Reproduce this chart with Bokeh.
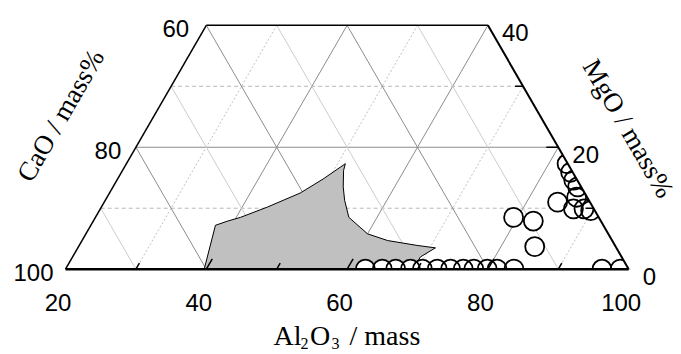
import math
from bokeh.plotting import figure
from bokeh.models import Range1d
from bokeh.core.properties import value
from bokeh.embed import file_html
from bokeh.resources import INLINE

# ---------------- data ----------------
# bottom axis (Al2O3), left axis (CaO), right axis (MgO) tick labels
al2o3_ticks = [20, 40, 60, 80, 100]
cao_ticks = [100, 80, 60]
mgo_ticks = [0, 20, 40]

# measured points: Al2O3 and MgO (mass%)
pts_al2o3 = [62.6, 65.0, 66.9, 69.0, 70.7, 72.8, 74.7, 76.5, 78.0, 79.9, 81.3, 83.7, 96.2, 98.8,
             82.6, 83.8, 84.9, 86.0, 84.4, 86.7, 87.2, 88.7, 89.8, 79.4, 82.5, 84.8]
pts_mgo = [0, 0, 0, 0, 0, 0, 0, 0, 0, 0, 0, 0, 0, 0,
           17.3, 15.9, 14.6, 13.5, 11.0, 11.8, 9.9, 9.9, 9.6, 8.5, 7.9, 3.7]

# shaded region boundary (Al2O3, MgO)
reg_al2o3 = [39.7, 37.7, 39.1, 40.6, 43.6, 47.1, 49.2, 51.1, 51.4, 52.7, 54.0, 56.0, 60.0,
             63.4, 68.0, 70.8, 69.4, 69.4]
reg_mgo = [0.0, 7.2, 7.9, 8.5, 10.2, 12.5, 14.8, 17.3, 16.2, 13.5, 11.3, 8.5, 5.8,
           4.7, 3.9, 3.5, 2.0, 0.0]

# ---------------- geometry ----------------
S3 = math.sqrt(3) / 2
PX = 7.04  # screen pixels per unit


def xy(a, m):
    return a + m / 2.0, m * S3


W, H = 681, 354
OX, OY = 65, 268.7  # screen position of (Al2O3=20, MgO=0)
x0 = 20 - OX / PX
x1 = x0 + W / PX
y1 = OY / PX
y0 = y1 - H / PX


def img(px, py):
    return 20 + (px - OX) / PX, (OY - py) / PX


p = figure(width=W, height=H, x_range=Range1d(x0, x1), y_range=Range1d(y0, y1),
           toolbar_location=None, output_backend="svg", min_border=0,
           x_axis_location=None, y_axis_location=None)
p.grid.visible = False
p.outline_line_color = None
p.background_fill_color = "white"

MAJ = "#8c8c8c"

# grid lines
for m in [10, 20, 30]:
    xa, ya = xy(20, m)
    xb, yb = xy(100 - m, m)
    if m % 20 == 0:
        p.segment(xa, ya, xb, yb, line_color=MAJ, line_width=1)
    else:
        p.segment(xa, ya, xb, yb, line_color="#b8b8b8", line_width=1, line_dash="4 3")
for a in range(30, 100, 10):
    xa, ya = xy(a, 0)
    xb, yb = xy(a, min(40, 100 - a))
    if a % 20 == 0:
        p.segment(xa, ya, xb, yb, line_color=MAJ, line_width=1)
    else:
        p.segment(xa, ya, xb, yb, line_color="#c0c0c0", line_width=1, line_dash="2 2")
for v in range(30, 100, 10):
    xa, ya = xy(v, 0)
    at = max(20, v - 40)
    xb, yb = xy(at, v - at)
    if v % 20 == 0:
        p.segment(xa, ya, xb, yb, line_color=MAJ, line_width=1)
    else:
        p.segment(xa, ya, xb, yb, line_color="#cccccc", line_width=1)

# shaded region
rx = [xy(a, m)[0] for a, m in zip(reg_al2o3, reg_mgo)]
ry = [xy(a, m)[1] for a, m in zip(reg_al2o3, reg_mgo)]
p.patch(rx, ry, fill_color="#c0c0c0", line_color="black", line_width=1)

# points
cx = [xy(a, m)[0] for a, m in zip(pts_al2o3, pts_mgo)]
cy = [xy(a, m)[1] for a, m in zip(pts_al2o3, pts_mgo)]
p.scatter(cx, cy, size=19, fill_color="white", line_color=None)
p.scatter(cx, cy, size=19, fill_color=None, line_color="black", line_width=1.8)

# masks outside the triangle (clip)
p.patch([x0, x1, x1, x0], [0, 0, y0, y0], fill_color="white", line_color=None)
tr = xy(60, 40)
br = xy(100, 0)
p.patch([br[0], tr[0], tr[0], x1, x1], [br[1], tr[1], y1, y1, br[1]],
        fill_color="white", line_color=None)

# frame edges
bl = xy(20, 0)
tl = xy(20, 40)
p.segment(bl[0], bl[1], br[0], br[1], line_color="black", line_width=2.6)
p.segment(bl[0], bl[1], tl[0], tl[1], line_color="black", line_width=1.5)
p.segment(tl[0], tl[1], tr[0], tr[1], line_color="black", line_width=1.5)
p.segment(br[0], br[1], tr[0], tr[1], line_color="black", line_width=2)

# ticks
for a in range(30, 100, 10):
    L = (12 if a % 20 == 0 else 7) / PX
    xa, ya = xy(a, 0)
    p.segment(xa, ya, xa + L * 0.5, ya + L * S3, line_color="black", line_width=1.5)
for m in [10, 20, 30]:
    L = (12 if m % 20 == 0 else 8) / PX
    xa, ya = xy(100 - m, m)
    p.segment(xa, ya, xa - L, ya, line_color="black", line_width=1.5)

NUMF = value("Liberation Sans")
NUMS = value("24px")

bx = [xy(a, 0)[0] for a in al2o3_ticks]
by = [0.0 for a in al2o3_ticks]
p.text(bx, by, text=[str(a) for a in al2o3_ticks], text_font=NUMF, text_font_size=NUMS,
       text_align="center", text_baseline="alphabetic", x_offset=-7.5, y_offset=33,
       text_color="black")

lm = [100 - c for c in cao_ticks]
p.text([xy(20, m)[0] for m in lm], [xy(20, m)[1] for m in lm], text=[str(c) for c in cao_ticks],
       text_font=NUMF, text_font_size=NUMS, text_align="right", text_baseline="alphabetic",
       x_offset=[-12 - 0.13 * m for m in lm], y_offset=3, text_color="black")

p.text([xy(100 - m, m)[0] for m in mgo_ticks], [xy(100 - m, m)[1] for m in mgo_ticks],
       text=[str(m) for m in mgo_ticks], text_font=NUMF, text_font_size=NUMS,
       text_align="left", text_baseline="alphabetic", x_offset=14, y_offset=7,
       text_color="black")

# axis titles
SERIF = value("Liberation Serif")
TS = value("27px")
tx, ty = img(60, 115)
p.text([tx], [ty], text=["CaO / mass%"], text_font=SERIF, text_font_size=TS,
       angle=math.pi / 3, text_align="center", text_baseline="middle", text_color="black")
tx, ty = img(628, 128)
p.text([tx], [ty], text=["MgO / mass%"], text_font=SERIF, text_font_size=TS,
       angle=-math.pi / 3, text_align="center", text_baseline="middle", text_color="black")

parts = [("Al", 273, 335, "28px"), ("2", 300, 343, "16px"), ("O", 309.5, 335, "28px"),
         ("3", 331, 343, "16px"), ("/ mass", 349, 335, "28px")]
for t, px_, py_, fs in parts:
    tx, ty = img(px_, py_)
    p.text([tx], [ty], text=[t], text_font=SERIF, text_font_size=value(fs),
           text_align="left", text_baseline="alphabetic", text_color="black")

open("out.html", "w").write(file_html(p, INLINE))
